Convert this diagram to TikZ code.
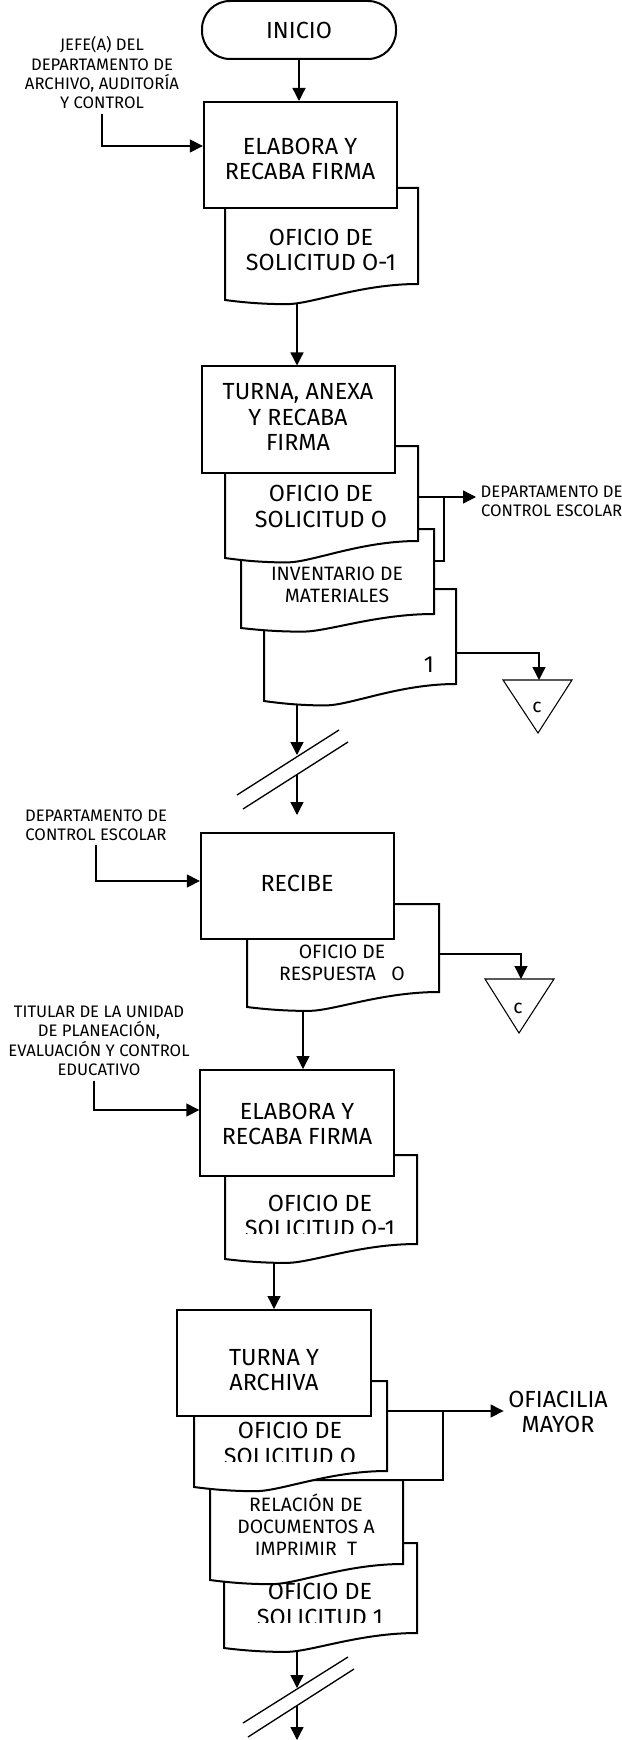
\documentclass[tikz,border=0pt]{standalone}
\usepackage{fontspec}
\setmainfont{Fira Sans}
\usetikzlibrary{arrows.meta,calc}
\newcommand{\fbig}{\fontsize{17.5}{19}\selectfont}
\newcommand{\fmed}{\fontsize{14.5}{16.5}\selectfont}
\newcommand{\fsml}{\fontsize{12.5}{14.5}\selectfont}
% document symbol: x0, x1, yTop, yBottomLeft, yBottomRight (px, y downward)
\newcommand{\docshape}[5]{%
  \pgfmathsetmacro{\dcw}{#2-#1}%
  \pgfmathsetmacro{\dcd}{#4-#5}%
  \pgfmathsetmacro{\dcxa}{#1+0.7*\dcw}%
  \pgfmathsetmacro{\dcxb}{#1+0.45*\dcw}%
  \pgfmathsetmacro{\dcxm}{#1+0.32*\dcw}%
  \pgfmathsetmacro{\dcxc}{#1+0.2*\dcw}%
  \pgfmathsetmacro{\dcxd}{#1+0.1*\dcw}%
  \pgfmathsetmacro{\dcym}{#4+0.26*\dcd}%
  \pgfmathsetmacro{\dcye}{#4+0.16*\dcd}%
  \draw[docline] (#1,#3) -- (#2,#3) -- (#2,#5) .. controls (\dcxa,#5) and (\dcxb,\dcym) .. (\dcxm,\dcym) .. controls (\dcxc,\dcym) and (\dcxd,\dcye) .. (#1,#4) -- cycle;
}
\begin{document}
\begin{tikzpicture}[x=0.75pt,y=-0.75pt,
  docline/.style={line width=1.5pt,fill=white,line join=miter},
  procbox/.style={draw,line width=1.5pt,fill=white,minimum width=145pt,minimum height=79.5pt,inner sep=0pt},
  termbox/.style={draw,line width=1.5pt,fill=white,rounded corners=21pt,minimum width=145.5pt,minimum height=43.5pt},
  conn/.style={line width=1pt},
  arr/.style={conn,-{Triangle[length=9.75pt,width=9.75pt]}},
  trib/.style={line width=0.8pt,fill=white},
  tbig/.style={font=\fbig,align=center},
  tmed/.style={font=\fmed,align=center},
  tsml/.style={font=\fsml,align=center}]
\fill[white] (0,0) rectangle (621,1740);
\useasboundingbox (0,0) rectangle (621,1740);

% ---------- start
\node[termbox,tbig] (ini) at (299,30) {INICIO};

% ---------- block 1
\node[tsml] (jefe) at (102,73) {JEFE(A) DEL\\DEPARTAMENTO DE\\ARCHIVO, AUDITORÍA\\Y CONTROL};
\docshape{225}{418}{188}{300}{284}
\node[tbig] (docA) at (321,250) {OFICIO DE\\SOLICITUD O-1};
\node[procbox] (b1) at (300.5,155) {};
\node[tbig] (b1t) at (300,159) {ELABORA Y\\RECABA FIRMA};

% ---------- block 2
\docshape{264}{456}{589}{701}{684}
\node[tbig] (one) at (429,665) {1};
\docshape{241}{434}{529}{628}{614}
\node[tmed] (inv) at (337,585) {INVENTARIO DE\\MATERIALES};
\docshape{225}{418}{446}{558}{541}
\node[tbig] (ofo) at (321,506.5) {OFICIO DE\\SOLICITUD O};
\node[procbox] (b2) at (298.5,419.5) {};
\node[tbig] (b2t) at (298,417) {TURNA, ANEXA\\Y RECABA\\FIRMA};
\node[tsml,anchor=west] (dep1) at (476,501) {DEPARTAMENTO DE\\CONTROL ESCOLAR};
\draw[trib] (503,680) -- (572,680) -- (538,733) -- cycle;
\node[tmed] (c1) at (537,707) {c};
\coordinate (t1) at (539,680);

% ---------- block 3
\docshape{247}{439}{904}{1007}{992}
\node[tmed] (resp) at (342,962.5) {OFICIO DE\\RESPUESTA~~~O};
\node[procbox] (b3) at (297.5,886) {};
\node[tbig] (b3t) at (297,883) {RECIBE};
\node[tsml] (dep2) at (96,825) {DEPARTAMENTO DE\\CONTROL ESCOLAR};
\draw[trib] (485,979) -- (554,979) -- (519,1033) -- cycle;
\node[tmed] (c2) at (518,1008) {c};
\coordinate (t2) at (521,979);

% ---------- block 4
\docshape{225}{417}{1155}{1259}{1244}
\begin{scope}
  \clip (225,1155) rectangle (417,1233);
  \node[tbig] (ofs2) at (320,1216) {OFICIO DE\\SOLICITUD O-1};
\end{scope}
\node[procbox] (b4) at (297,1123) {};
\node[tbig] (b4t) at (297,1124) {ELABORA Y\\RECABA FIRMA};
\node[tsml] (tit) at (99,1041) {TITULAR DE LA UNIDAD\\DE PLANEACIÓN,\\EVALUACIÓN Y CONTROL\\EDUCATIVO};

% ---------- block 5
\docshape{224}{417}{1543}{1648}{1633}
\begin{scope}
  \clip (224,1543) rectangle (417,1622);
  \node[tbig] (ofs3) at (320,1604.5) {OFICIO DE\\SOLICITUD 1};
\end{scope}
\docshape{210}{403}{1480}{1580}{1564}
\node[tmed] (rel) at (306,1525) {RELACIÓN DE\\DOCUMENTOS A\\IMPRIMIR~~T};
\docshape{194}{387}{1381}{1487}{1471}
\begin{scope}
  \clip (194,1381) rectangle (387,1461);
  \node[tbig] (ofs4) at (290,1443.5) {OFICIO DE\\SOLICITUD O};
\end{scope}
\node[procbox] (b5) at (274,1363) {};
\node[tbig] (b5t) at (274,1370) {TURNA Y\\ARCHIVA};
\node[tbig] (ofm) at (558,1412) {OFIACILIA\\MAYOR};

% ---------- connection points
\coordinate (dAb) at (297,304);
\coordinate (ofoR) at (418,497);
\coordinate (invR) at (434,561);
\coordinate (brk1) at (444,497);
\coordinate (oneR) at (456,653);
\coordinate (oneB) at (297,705);
\coordinate (k1) at (297,755);
\coordinate (k2) at (297,775);
\coordinate (s1a) at (237,795);
\coordinate (s1b) at (339,730);
\coordinate (s2a) at (243,809);
\coordinate (s2b) at (348,742);
\coordinate (respR) at (439,954);
\coordinate (respB) at (303,1011);
\coordinate (ofs2B) at (274,1263);
\coordinate (ofs4R) at (387,1411);
\coordinate (relR) at (403,1480);
\coordinate (brk2) at (443,1411);
\coordinate (ofs3B) at (297,1652);
\coordinate (k3) at (297,1688);
\coordinate (k4) at (297,1706);
\coordinate (s3a) at (243,1723);
\coordinate (s3b) at (348,1657);
\coordinate (s4a) at (248,1737);
\coordinate (s4b) at (354,1669);
\coordinate (endB) at (297,1740);

% ---------- connectors
\draw[arr] (ini.south) -- (ini.south |- b1.north);
\draw[arr] (jefe.south) |- ($(b1.west)+(0,-9)$);
\draw[arr] (dAb) -- (dAb |- b2.north);
\draw[arr] (ofoR) -- (ofoR -| dep1.west);
\draw[conn] (invR) -| (brk1);
\draw[arr] (oneR) -| (t1);
\draw[arr] (oneB) -- (k1);
\draw[conn] (s1a) -- (s1b);
\draw[conn] (s2a) -- (s2b);
\draw[arr,shorten >=12.75pt] (k2) -- (k2 |- b3.north);
\draw[arr] (dep2.south) |- ($(b3.west)+(0,-5)$);
\draw[arr] (respR) -| (t2);
\draw[arr] (respB) -- (respB |- b4.north);
\draw[arr] ([xshift=-3.75pt]tit.south) |- ($(b4.west)+(0,-13)$);
\draw[arr] (ofs2B) -- (ofs2B |- b5.north);
\draw[arr] (ofs4R) -- (ofs4R -| ofm.west);
\draw[conn] (relR) -| (brk2);
\draw[arr] (ofs3B) -- (k3);
\draw[conn] (s3a) -- (s3b);
\draw[conn] (s4a) -- (s4b);
\draw[arr] (k4) -- (endB);
\end{tikzpicture}
\end{document}
